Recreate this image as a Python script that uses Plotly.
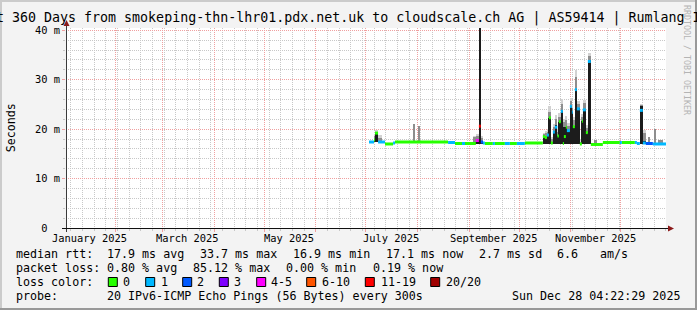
import plotly.graph_objects as go
from datetime import datetime

# ---------------- data ----------------
T_START = "2025-01-02 04:22:29"
T_END = "2025-12-28 04:22:29"

# median rtt (ms), step series: value valid from start until next start
med_start = [
    "2025-07-03 00:00", "2025-07-06 00:00", "2025-07-06 14:00", "2025-07-08 10:00",
    "2025-07-12 14:00", "2025-07-17 10:00", "2025-07-18 14:00", "2025-08-19 10:00",
    "2025-08-23 14:00", "2025-08-27 19:00", "2025-08-29 14:00", "2025-09-05 02:00",
    "2025-09-06 22:00", "2025-09-08 02:00", "2025-09-09 07:00", "2025-09-10 12:00",
    "2025-09-15 07:00", "2025-09-16 12:00", "2025-09-22 12:00", "2025-09-25 12:00",
    "2025-09-29 17:00", "2025-10-04 12:00", "2025-10-15 07:00", "2025-10-16 12:00",
    "2025-10-17 17:00", "2025-10-18 22:00", "2025-10-20 02:00", "2025-10-21 07:00",
    "2025-10-22 12:00", "2025-10-24 00:00", "2025-10-24 22:00", "2025-10-26 02:00",
    "2025-10-27 07:00", "2025-10-27 22:00", "2025-10-29 02:00", "2025-10-29 17:00",
    "2025-10-31 12:00", "2025-11-01 17:00", "2025-11-02 07:00", "2025-11-03 12:00",
    "2025-11-04 17:00", "2025-11-06 12:00", "2025-11-07 17:00", "2025-11-08 07:00",
    "2025-11-10 02:00", "2025-11-11 07:00", "2025-11-13 02:00", "2025-11-20 07:00",
    "2025-11-30 12:00", "2025-12-01 17:00", "2025-12-09 12:00", "2025-12-10 17:00",
    "2025-12-12 12:00", "2025-12-14 07:00", "2025-12-16 02:00", "2025-12-20 07:00",
]
med_value = [
    17.4, 17.8, 19.2, 17.4, 17.0, 17.2, 17.4, 17.3,
    17.1, 17.1, 17.1, 17.7, 20.6, 17.4, 17.2, 17.1,
    17.1, 17.1, 17.1, 17.1, 17.1, 17.2, 18.5, 18.3,
    18.8, 22.3, 17.2, 19.4, 20.4, 18.6, 21.5, 23.6,
    17.1, 18.5, 20.4, 19.7, 24.6, 23.4, 20.5, 28.0,
    24.1, 17.0, 21.6, 23.9, 19.3, 33.7, 16.9, 17.3,
    17.3, 17.3, 17.3, 17.1, 23.8, 17.2, 17.1, 17.0,
]
# index into loss classes below
med_loss = [
    1, 0, 0, 1, 0, 1, 0, 1,
    0, 1, 0, 4, 6, 2, 1, 0,
    1, 0, 1, 0, 1, 0, 0, 0,
    1, 0, 0, 1, 1, 0, 0, 1,
    0, 0, 0, 1, 1, 1, 0, 1,
    1, 0, 0, 1, 0, 1, 0, 0,
    1, 0, 1, 1, 1, 1, 2, 1,
]

# smoke (ping spread), ms: low, top of dense core, top of mid shade, top of light shade
smoke_start = [
    "2025-07-06 00:00", "2025-07-06 14:00", "2025-07-08 10:00", "2025-07-29 10:00",
    "2025-08-01 02:00", "2025-09-03 22:00", "2025-09-05 02:00", "2025-09-07 05:00",
    "2025-09-07 19:00", "2025-10-15 07:00", "2025-10-16 12:00", "2025-10-17 17:00",
    "2025-10-18 22:00", "2025-10-20 02:00", "2025-10-21 07:00", "2025-10-22 12:00",
    "2025-10-24 00:00", "2025-10-24 22:00", "2025-10-26 02:00", "2025-10-27 07:00",
    "2025-10-27 22:00", "2025-10-29 02:00", "2025-10-29 17:00", "2025-10-31 12:00",
    "2025-11-01 17:00", "2025-11-02 07:00", "2025-11-03 12:00", "2025-11-04 17:00",
    "2025-11-06 12:00", "2025-11-07 17:00", "2025-11-08 07:00", "2025-11-10 02:00",
    "2025-11-11 07:00", "2025-11-15 12:00", "2025-12-12 12:00", "2025-12-14 07:00",
    "2025-12-17 22:00", "2025-12-21 05:00", "2025-12-23 07:00",
]
smoke_end = [
    "2025-07-06 14:00", "2025-07-08 10:00", "2025-07-10 12:00", "2025-07-30 14:00",
    "2025-08-02 14:00", "2025-09-05 02:00", "2025-09-07 05:00", "2025-09-07 19:00",
    "2025-09-09 07:00", "2025-10-16 12:00", "2025-10-17 17:00", "2025-10-18 22:00",
    "2025-10-20 02:00", "2025-10-21 07:00", "2025-10-22 12:00", "2025-10-24 00:00",
    "2025-10-24 22:00", "2025-10-26 02:00", "2025-10-27 07:00", "2025-10-27 22:00",
    "2025-10-29 02:00", "2025-10-29 17:00", "2025-10-31 12:00", "2025-11-01 17:00",
    "2025-11-02 07:00", "2025-11-03 12:00", "2025-11-04 17:00", "2025-11-06 12:00",
    "2025-11-07 17:00", "2025-11-08 07:00", "2025-11-10 02:00", "2025-11-11 07:00",
    "2025-11-13 02:00", "2025-11-16 12:00", "2025-12-14 07:00", "2025-12-16 02:00",
    "2025-12-18 12:00", "2025-12-21 19:00", "2025-12-26 07:00",
]
smoke_lo = [
    17.3, 17.3, 17.3, 17.3, 17.3, 17.0, 17.0, 17.0, 17.0, 17.0,
    17.0, 17.0, 17.0, 17.0, 17.0, 17.0, 17.0, 17.0, 17.0, 17.0,
    17.0, 17.0, 17.0, 17.0, 17.0, 17.0, 17.0, 17.0, 17.0, 17.0,
    17.0, 17.0, 17.0, 16.9, 17.0, 17.0, 17.0, 17.0, 17.0,
]
smoke_dark = [
    17.8, 19.0, 17.3, 17.3, 17.3, 17.2, 17.8, 42.0, 17.6, 18.5,
    18.3, 18.8, 22.3, 17.3, 19.7, 20.9, 18.6, 21.5, 23.7, 17.2,
    20.4, 20.4, 19.7, 24.6, 23.4, 20.7, 28.1, 24.2, 17.1, 21.6,
    23.9, 19.3, 33.9, 16.9, 24.6, 17.6, 17.0, 17.0, 17.0,
]
smoke_mid = [
    18.6, 19.5, 18.3, 21.1, 20.7, 18.4, 18.6, 42.0, 18.2, 19.0,
    19.2, 19.5, 23.5, 18.0, 20.5, 22.0, 19.5, 22.5, 25.0, 17.6,
    21.5, 21.8, 20.6, 25.6, 24.2, 21.8, 30.5, 25.0, 17.5, 22.5,
    25.3, 20.2, 34.8, 17.8, 24.9, 19.3, 18.5, 20.0, 17.9,
]
smoke_hi = [
    19.0, 19.9, 18.8, 21.1, 20.7, 18.6, 19.0, 42.0, 18.6, 19.3,
    19.7, 20.0, 24.6, 18.5, 21.0, 22.8, 20.0, 23.2, 26.1, 18.0,
    22.0, 22.6, 21.2, 26.3, 24.8, 22.5, 32.0, 25.6, 17.8, 23.0,
    26.0, 20.8, 35.5, 17.8, 25.0, 19.8, 18.5, 20.0, 17.9,
]

loss_labels = ["0", "1", "2", "3", "4-5", "6-10", "11-19", "20/20"]
loss_colors = ["#26ff00", "#00b8ff", "#0059ff", "#7e00ff", "#ff00ff", "#ff5500", "#ff0000", "#a00000"]

y_tickvals = [0, 10, 20, 30, 40]
y_ticktext = ["0\u00a0\u00a0", "10 m", "20 m", "30 m", "40 m"]
month_grid = ["2025-02-01", "2025-03-01", "2025-04-01", "2025-05-01", "2025-06-01", "2025-07-01",
              "2025-08-01", "2025-09-01", "2025-10-01", "2025-11-01", "2025-12-01"]
month_label_at = ["2025-01-16", "2025-03-16", "2025-05-16", "2025-07-16", "2025-09-16", "2025-11-16"]
month_label_text = ["January 2025", "March 2025", "May 2025", "July 2025", "September 2025", "November 2025"]

title_text = "Last 360 Days from smokeping-thn-lhr01.pdx.net.uk to cloudscale.ch AG | AS59414 | Rumlang IPv6"
rtt_head = "median rtt:"
rtt_items = ["17.9 ms avg", "33.7 ms max", "16.9 ms min", "17.1 ms now", "2.7 ms sd", "6.6", "am/s"]
loss_head = "packet loss:"
loss_items = ["0.80 % avg", "85.12 % max", "0.00 % min", "0.19 % now"]
color_head = "loss color:"
probe_head = "probe:"
probe_text = "20 IPv6-ICMP Echo Pings (56 Bytes) every 300s"
stamp_text = "Sun Dec 28 04:22:29 2025"
watermark = "RRDTOOL / TOBI OETIKER"

# ---------------- layout constants ----------------
W, H = 697, 310
L, T, PW, PH = 66, 28, 600, 200
Y_MAX = 200 / 4.9425
MONO = "DejaVu Sans Mono"
F_TITLE, F_AXIS, F_LEG, F_WM = 13.3, 10.4, 11.67, 8.3
BG = "#f3f3f3"
MGRID = "#f0a0a0"
GRID = "#c8c8c8"


def px(x):
    return (x - L) / PW


def py(y):
    return (T + PH - y) / PH


def ts(s):
    return datetime.strptime(s, "%Y-%m-%d %H:%M")


fig = go.Figure()

# smoke as stacked-shade bars
mids = [ts(a) + (ts(b) - ts(a)) / 2 for a, b in zip(smoke_start, smoke_end)]
widths = [(ts(b) - ts(a)).total_seconds() * 1000 for a, b in zip(smoke_start, smoke_end)]
for tops, col in [(smoke_hi, "#d2d2d2"), (smoke_mid, "#8e8e8e"), (smoke_dark, "#1c1c1c")]:
    fig.add_trace(go.Bar(
        x=mids, y=[t - lo for t, lo in zip(tops, smoke_lo)], base=smoke_lo, width=widths,
        marker=dict(color=col, line=dict(width=0)), showlegend=False, hoverinfo="skip",
    ))

# median line coloured by loss
for c, col in enumerate(loss_colors):
    xs, ys = [], []
    for i in range(len(med_start)):
        if med_loss[i] != c:
            continue
        t1 = med_start[i + 1] if i + 1 < len(med_start) else T_END
        xs += [med_start[i], t1, None]
        ys += [med_value[i], med_value[i], None]
    if xs:
        fig.add_trace(go.Scatter(x=xs, y=ys, mode="lines", line=dict(color=col, width=3),
                                 showlegend=False, hoverinfo="skip", connectgaps=False))

shapes = []
# borders
shapes += [
    dict(type="rect", xref="paper", yref="paper", x0=px(0), x1=px(W), y0=py(0), y1=py(2),
         fillcolor="#cbcbcb", line=dict(width=0), layer="below"),
    dict(type="rect", xref="paper", yref="paper", x0=px(0), x1=px(2), y0=py(0), y1=py(H),
         fillcolor="#cbcbcb", line=dict(width=0), layer="below"),
    dict(type="rect", xref="paper", yref="paper", x0=px(W - 2), x1=px(W), y0=py(0), y1=py(H),
         fillcolor="#999999", line=dict(width=0), layer="below"),
    dict(type="rect", xref="paper", yref="paper", x0=px(0), x1=px(W), y0=py(H - 2), y1=py(H),
         fillcolor="#999999", line=dict(width=0), layer="below"),
]
# axes with arrows
shapes += [
    dict(type="line", xref="paper", yref="paper", x0=px(66.5), x1=px(66.5), y0=py(232), y1=py(24),
         line=dict(color="#3a3a3a", width=1)),
    dict(type="line", xref="paper", yref="paper", x0=px(62), x1=px(669), y0=py(228.5), y1=py(228.5),
         line=dict(color="#101010", width=1)),
    dict(type="path", xref="paper", yref="paper",
         path=f"M {px(668)},{py(225.5)} L {px(674)},{py(228.5)} L {px(668)},{py(231.5)} Z",
         fillcolor="#8b1a1a", line=dict(width=0)),
    dict(type="path", xref="paper", yref="paper",
         path=f"M {px(63.5)},{py(26)} L {px(66.5)},{py(20)} L {px(69.5)},{py(26)} Z",
         fillcolor="#8b1a1a", line=dict(width=0)),
]
# loss colour boxes
box_x = [108.3, 145.7, 182.7, 219.3, 256.7, 306.7, 365.3, 430.7]
label_x = [123.3, 161, 197.3, 234.3, 270.7, 321.7, 380.7, 445.7]
for bx, col in zip(box_x, loss_colors):
    shapes.append(dict(type="rect", xref="paper", yref="paper", x0=px(bx), x1=px(bx + 9),
                       y0=py(286.5), y1=py(277.5), fillcolor=col, line=dict(color="black", width=1)))

ann = []


def text(x, y, s, size=F_LEG, anchor="left", color="black", angle=0, family=MONO):
    ann.append(dict(x=px(x), y=py(y), xref="paper", yref="paper", text=s, showarrow=False,
                    xanchor=anchor, yanchor="middle", borderpad=0, textangle=angle,
                    font=dict(family=family, size=size, color=color)))


text(-29.5, 18.5, title_text, size=F_TITLE)
text(10.8, 127.5, "Seconds", angle=-90, anchor="center")
text(687, 60, watermark, size=F_WM, color="#b4b4b4", angle=90, anchor="center")

ROW = [254.3, 268.3, 281.7, 296]
text(15, ROW[0], rtt_head)
for s, x in zip(rtt_items, [107.3, 200, 293.3, 386, 479.3, 557.3, 600]):
    text(x - 1, ROW[0], s)
text(15, ROW[1], loss_head)
for s, x in zip(loss_items, [107.3, 193.3, 286.3, 372.7]):
    text(x - 1, ROW[1], s)
text(15, ROW[2], color_head)
for s, x in zip(loss_labels, label_x):
    text(x - 1, ROW[2], s)
text(15, ROW[3], probe_head)
text(106.3, ROW[3], probe_text)
text(681, ROW[3], stamp_text, anchor="right")

for d, s in zip(month_label_at, month_label_text):
    ann.append(dict(x=d, y=py(238), xref="x", yref="paper", text=s, showarrow=False,
                    xanchor="center", yanchor="middle", borderpad=0,
                    font=dict(family=MONO, size=F_AXIS, color="black")))

fig.update_layout(
    template="none",
    width=W, height=H,
    margin=dict(l=L, r=W - L - PW, t=T, b=H - T - PH, pad=0),
    paper_bgcolor=BG, plot_bgcolor="white",
    showlegend=False, barmode="overlay", bargap=0,
    shapes=shapes, annotations=ann,
    xaxis=dict(
        type="date", range=[T_START, T_END], automargin=False,
        tickmode="array", tickvals=month_grid, ticktext=[""] * len(month_grid),
        showgrid=True, gridcolor=MGRID, griddash="1px,1px", gridwidth=1,
        ticks="outside", ticklen=3, tickcolor=MGRID, tickwidth=1,
        showline=False, zeroline=False,
        minor=dict(dtick=7 * 86400000, tick0="2025-01-05", showgrid=True, gridcolor=GRID,
                   griddash="1px,1px", gridwidth=1, ticks="outside", ticklen=2, tickcolor=GRID),
    ),
    yaxis=dict(
        range=[0, Y_MAX], automargin=False,
        tickmode="array", tickvals=y_tickvals, ticktext=y_ticktext,
        tickfont=dict(family=MONO, size=F_AXIS, color="black"),
        showgrid=True, gridcolor=MGRID, griddash="1px,1px", gridwidth=1,
        ticks="outside", ticklen=3, tickcolor=MGRID, tickwidth=1,
        showline=False, zeroline=False,
        minor=dict(dtick=2, tick0=0, showgrid=True, gridcolor=GRID, griddash="1px,1px",
                   gridwidth=1, ticks="outside", ticklen=2, tickcolor=GRID),
    ),
)

fig.write_html("out.html", config={"displayModeBar": False})
